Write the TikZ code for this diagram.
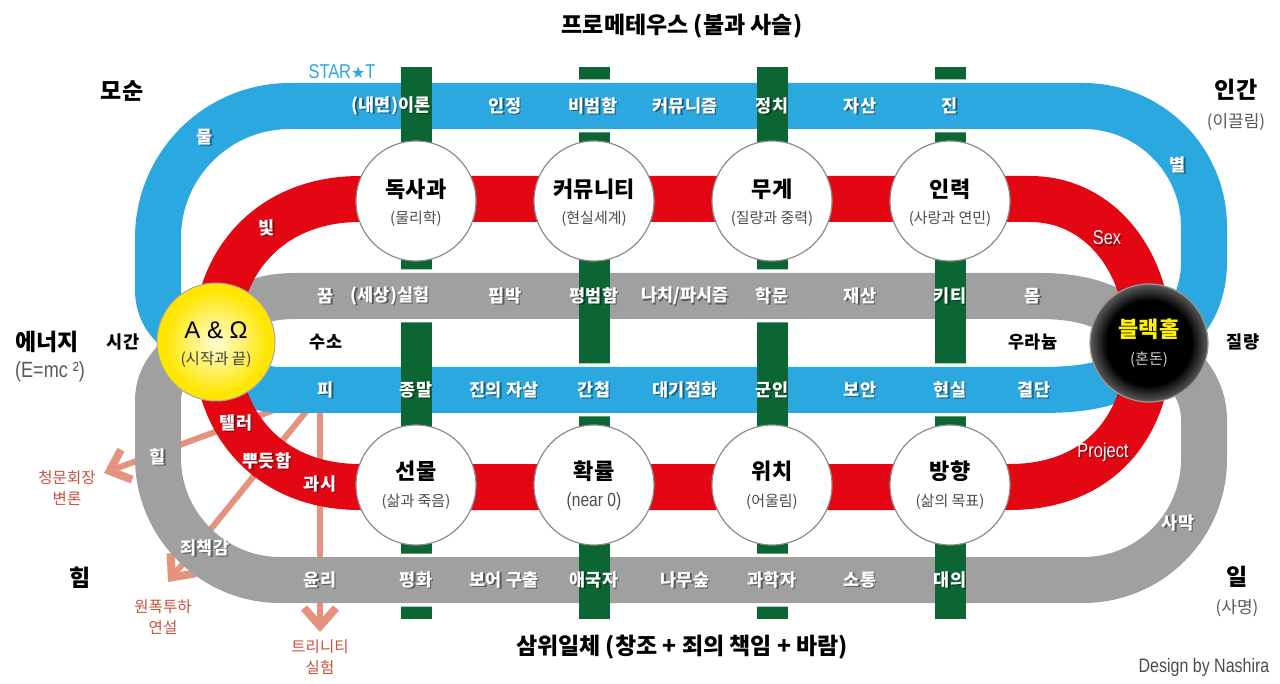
\documentclass[tikz,border=0pt]{standalone}
\usepackage{fontspec}
\setmainfont{Noto Sans CJK KR}
\newfontfamily\narrow[FakeStretch=0.82]{Liberation Sans}
\newfontfamily\arialf{Liberation Sans}
\newfontfamily\dejavu{DejaVu Sans}
\usetikzlibrary{arrows.meta}
\definecolor{lblue}{HTML}{2BA8E0}
\definecolor{lred}{HTML}{E30613}
\definecolor{lgray}{HTML}{A0A0A0}
\definecolor{lgreen}{HTML}{0B6634}
\definecolor{salmon}{HTML}{E3937E}
\definecolor{salmontxt}{HTML}{C9503C}
\definecolor{sunin}{HTML}{FFFBD0}
\definecolor{sunmid}{HTML}{FFF37A}
\definecolor{sunyel}{HTML}{FFE600}
\definecolor{holerim}{HTML}{5A5A5A}
\definecolor{holetxt}{HTML}{FFF200}
\pgfdeclareradialshading{sunshade}{\pgfpoint{0bp}{0bp}}{color(0bp)=(sunin);color(10bp)=(sunmid);color(22bp)=(sunyel);color(25bp)=(sunyel);color(50bp)=(sunyel)}
\pgfdeclareradialshading{holeshade}{\pgfpoint{0bp}{0bp}}{color(0bp)=(black);color(18bp)=(black);color(25bp)=(holerim);color(50bp)=(holerim)}
\tikzset{
  bandout/.style={draw=white, line width=53pt, line join=round},
  band/.style={line width=46pt, line join=round},
  stn/.style={circle, fill=white, draw=black!45, line width=1.2pt, minimum size=120pt, inner sep=0pt},
  bandlbl/.style={text=white, font=\bfseries\fontsize{17.5}{20}\selectfont, inner sep=0pt},
  narrowlbl/.style={text=white, font=\narrow\fontsize{20}{22}\selectfont, inner sep=0pt},
  shd/.style={text=black, text opacity=0.45, xshift=1.3pt, yshift=-1.3pt},
  cmain/.style={font=\bfseries\fontsize{22}{24}\selectfont, inner sep=0pt},
  csub/.style={font=\fontsize{15}{17}\selectfont, text=black!70, inner sep=0pt},
  corner/.style={font=\bfseries\fontsize{23}{25}\selectfont, inner sep=0pt},
  cornersub/.style={font=\fontsize{17}{19}\selectfont, text=black!65, inner sep=0pt},
  plain/.style={font=\bfseries\fontsize{17.5}{20}\selectfont, inner sep=0pt},
  title/.style={font=\bfseries\fontsize{23}{25}\selectfont, inner sep=0pt},
  sarrow/.style={draw=salmon, line width=6pt, -{Straight Barb[length=18pt,width=32pt,line width=8pt]}},
  slbl/.style={font=\fontsize{15.5}{21}\selectfont, text=salmontxt, align=center, inner sep=0pt},
}
\newcommand\bandtext[4][]{\node[bandlbl,#1,shd] (#2-s) at (#3) {#4}; \node[bandlbl,#1] (#2) at (#3) {#4};}
\def\bluepath{(aw) .. controls (185,342) and (158,322) .. (158,290) -- (158,238)
  .. controls (158,165) and (217,106) .. (290,106) -- (1083,106)
  .. controls (1150,106) and (1204,160) .. (1204,227) -- (1204,262)
  .. controls (1204,300) and (1185,335) .. (bh)
  .. controls (1135,380) and (1100,390) .. (1040,390) -- (280,390)
  .. controls (250,390) and (228,372) .. (aw)}
\def\graypath{(aw) .. controls (232,310) and (255,296) .. (295,296) -- (1040,296)
  .. controls (1090,296) and (1125,310) .. (bh)
  .. controls (1180,360) and (1204,385) .. (1204,420) -- (1204,459)
  .. controls (1204,526) and (1150,580) .. (1083,580) -- (280,580)
  .. controls (213,580) and (158,525) .. (158,458) -- (158,400)
  .. controls (158,370) and (185,345) .. (aw)}
\def\redpath{(aw) .. controls (216,262) and (270,199) .. (360,199) -- (1030,199)
  .. controls (1100,199) and (1149,262) .. (bh)
  .. controls (1149,425) and (1100,487) .. (1010,487) -- (360,487)
  .. controls (270,487) and (216,425) .. (aw)}
\begin{document}
\begin{tikzpicture}[x=1pt,y=-1pt]
\useasboundingbox (0,0) rectangle (1280,684);
\fill[white] (0,0) rectangle (1280,684);
\coordinate (aw) at (216,342);
\coordinate (bh) at (1149,343);
% green bars (under)
\foreach \bx in {416,594,772,950} \fill[lgreen] (\bx-15.5,67) rectangle (\bx+15.5,619);
% white outlines of the bands
\draw[bandout] \bluepath;
\draw[bandout] \graypath;
\draw[bandout] \redpath;
% salmon arrows
\coordinate (s1) at (285,406); \coordinate (e1) at (104,473);
\coordinate (s2) at (313,403); \coordinate (e2) at (168,582);
\coordinate (s3) at (320,405); \coordinate (e3) at (320,632);
\draw[sarrow] (s1) -- (e1);
\draw[sarrow] (s2) -- (e2);
\draw[sarrow] (s3) -- (e3);
% bands
\draw[band, lblue] \bluepath;
\draw[band, lgray] \graypath;
\draw[band, lred] \redpath;
% bars on top of bands
\foreach \bx in {416,772} {
  \fill[lgreen] (\bx-15.5,79) rectangle (\bx+15.5,133.5);
  \fill[lgreen] (\bx-15.5,363) rectangle (\bx+15.5,417);
}
\foreach \bx in {594,950} {
  \fill[lgreen] (\bx-15.5,269) rectangle (\bx+15.5,323);
  \fill[lgreen] (\bx-15.5,553) rectangle (\bx+15.5,607);
}
% station circles
\node[stn] (c1) at (416,201) {};
\node[stn] (c2) at (594,201) {};
\node[stn] (c3) at (772,201) {};
\node[stn] (c4) at (950,201) {};
\node[stn] (c5) at (416,485) {};
\node[stn] (c6) at (594,485) {};
\node[stn] (c7) at (772,485) {};
\node[stn] (c8) at (950,485) {};
\node[circle, minimum size=118pt, inner sep=0pt, shading=sunshade, draw=black!35, line width=1pt] (awc) at (aw) {};
\node[circle, minimum size=118pt, inner sep=0pt, shading=holeshade, draw=black!40, line width=1.2pt] (bhc) at (bh) {};
% circle texts
\node[cmain] (c1m) at (416,189) {독사과};   \node[csub] (c1s) at (416,219) {(물리학)};
\node[cmain] (c2m) at (594,189) {커뮤니티}; \node[csub] (c2s) at (594,219) {(현실세계)};
\node[cmain] (c3m) at (772,189) {무게};     \node[csub] (c3s) at (772,219) {(질량과 중력)};
\node[cmain] (c4m) at (950,189) {인력};     \node[csub] (c4s) at (950,219) {(사랑과 연민)};
\node[cmain] (c5m) at (416,471) {선물};     \node[csub] (c5s) at (416,502) {(삶과 죽음)};
\node[cmain] (c6m) at (594,471) {확률};     \node[csub, font=\narrow\fontsize{19}{21}\selectfont] (c6s) at (594,502) {(near 0)};
\node[cmain] (c7m) at (772,471) {위치};     \node[csub] (c7s) at (772,502) {(어울림)};
\node[cmain] (c8m) at (950,471) {방향};     \node[csub] (c8s) at (950,502) {(삶의 목표)};
\node[font=\arialf\fontsize{24}{26}\selectfont, inner sep=0pt] (awm) at (216,330) {A \& Ω};
\node[csub, text=black!75, font=\fontsize{15.5}{17}\selectfont] (aws) at (216,360) {(시작과 끝)};
\node[cmain, text=holetxt] (bhm) at (1149,329) {블랙홀};
\node[csub, text=black!20] (bhs) at (1149,360) {(혼돈)};
% band labels: blue top
\bandtext{t1}{391,106}{(내면)이론}
\bandtext{t2}{505,106}{인정}
\bandtext{t3}{593,106}{비범함}
\bandtext{t4}{685,106}{커뮤니즘}
\bandtext{t5}{772,106}{정치}
\bandtext{t6}{860,106}{자산}
\bandtext{t7}{950,106}{진}
% gray top
\bandtext{g1}{326,296}{꿈}
\bandtext{g2}{390,296}{(세상)실험}
\bandtext{g3}{505,296}{핍박}
\bandtext{g4}{594,296}{평범함}
\bandtext{g5}{685,296}{나치/파시즘}
\bandtext{g6}{772,296}{학문}
\bandtext{g7}{860,296}{재산}
\bandtext{g8}{950,296}{키티}
\bandtext{g9}{1033,296}{몸}
% blue lower
\bandtext{b1}{326,390}{피}
\bandtext{b2}{416,390}{종말}
\bandtext{b3}{504,390}{진의 자살}
\bandtext{b4}{594,390}{간첩}
\bandtext{b5}{685,390}{대기점화}
\bandtext{b6}{772,390}{군인}
\bandtext{b7}{860,390}{보안}
\bandtext{b8}{950,390}{현실}
\bandtext{b9}{1034,390}{결단}
% gray lower
\bandtext{h1}{320,580}{윤리}
\bandtext{h2}{416,580}{평화}
\bandtext{h3}{504,580}{보어 구출}
\bandtext{h4}{594,580}{애국자}
\bandtext{h5}{685,580}{나무숲}
\bandtext{h6}{772,580}{과학자}
\bandtext{h7}{860,580}{소통}
\bandtext{h8}{950,580}{대의}
% curve labels
\bandtext{k1}{205,137}{물}
\bandtext{k2}{267,228}{빛}
\bandtext{k3}{1178,165}{별}
\bandtext[narrowlbl]{k4}{1107,238}{Sex}
\bandtext{k5}{236,423}{텔러}
\bandtext{k6}{267,461}{뿌듯함}
\bandtext{k7}{320,484}{과시}
\bandtext{k8}{158,457}{힐}
\bandtext{k9}{205,548}{죄책감}
\bandtext[narrowlbl]{k10}{1103,452}{Project}
\bandtext{k11}{1178,523}{사막}
% plain black labels
\node[plain] (suso) at (326,342) {수소};
\node[plain] (uran) at (1033,342) {우라늄};
\node[plain] (sigan) at (123,342) {시간};
\node[plain] (jil) at (1243,342) {질량};
% corner labels
\node[corner] (mosun) at (122,91) {모순};
\node[corner] (ingan) at (1236,90) {인간};
\node[cornersub] (ingan2) at (1236,122) {(이끌림)};
\node[corner] (energy) at (47,342) {에너지};
\node[cornersub, font=\narrow\fontsize{22}{24}\selectfont] (energy2) at (50,372) {(E=mc ²)};
\node[corner] (him) at (80,578) {힘};
\node[corner] (il) at (1237,577) {일};
\node[cornersub] (il2) at (1237,608) {(사명)};
% titles
\node[title] (top) at (682,26) {프로메테우스 (불과 사슬)};
\node[title] (bottom) at (682,647) {삼위일체 (창조 + 죄의 책임 + 바람)};
\node[inner sep=0pt, text=lblue, font=\narrow\fontsize{20}{22}\selectfont] (start) at (342,72) {STAR{\dejavu\fontsize{16}{18}\selectfont ★}T};
\node[inner sep=0pt, text=black!70, font=\narrow\fontsize{19.5}{21}\selectfont] (design) at (1204,667) {Design by Nashira};
% salmon labels
\node[slbl] (l1) at (67,488) {청문회장\\변론};
\node[slbl] (l2) at (163,617) {원폭투하\\연설};
\node[slbl] (l3) at (320,657) {트리니티\\실험};
\end{tikzpicture}
\end{document}
